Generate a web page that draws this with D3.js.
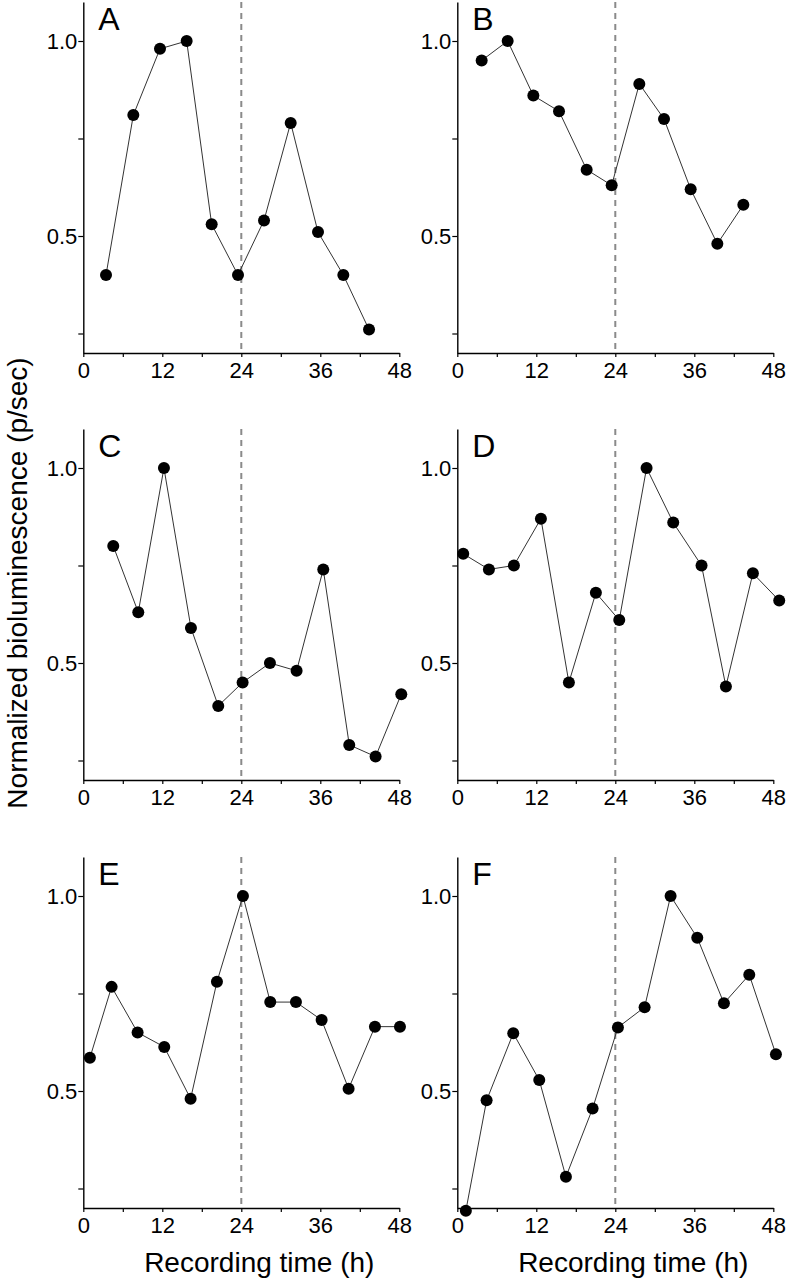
<!DOCTYPE html>
<html>
<head>
<meta charset="utf-8">
<script src="https://cdn.jsdelivr.net/npm/d3@7"></script>
<style>
  body { margin: 0; background: #fff; }
  svg { display: block; font-family: "Liberation Sans", Arial, sans-serif; }
</style>
</head>
<body>
<svg id="chart" width="788" height="1280"></svg>
<script>
// hours (h) and normalized bioluminescence
const timesA = [3.45, 7.6, 11.65, 15.7, 19.5, 23.5, 27.45, 31.5, 35.65, 39.5, 43.4];
const valuesA = [0.40, 0.81, 0.98, 1.00, 0.53, 0.40, 0.54, 0.79, 0.51, 0.40, 0.26];

const timesB = [3.7, 7.65, 11.55, 15.45, 19.65, 23.45, 27.65, 31.4, 35.45, 39.5, 43.45];
const valuesB = [0.95, 1.00, 0.86, 0.82, 0.67, 0.63, 0.89, 0.80, 0.62, 0.48, 0.58];

const timesC = [4.55, 8.35, 12.25, 16.35, 20.5, 24.2, 28.35, 32.4, 36.45, 40.4, 44.4, 48.3];
const valuesC = [0.80, 0.63, 1.00, 0.59, 0.39, 0.45, 0.50, 0.48, 0.74, 0.29, 0.26, 0.42];

const timesD = [0.9, 4.8, 8.6, 12.7, 16.95, 21.05, 24.6, 28.75, 32.8, 37.1, 40.8, 44.9, 48.9];
const valuesD = [0.78, 0.74, 0.75, 0.87, 0.45, 0.68, 0.61, 1.00, 0.86, 0.75, 0.44, 0.73, 0.66];

const timesE = [1.0, 4.3, 8.25, 12.3, 16.3, 20.3, 24.25, 28.4, 32.3, 36.2, 40.3, 44.3, 48.1];
const valuesE = [0.585, 0.767, 0.65, 0.613, 0.48, 0.78, 1.00, 0.728, 0.728, 0.682, 0.506, 0.665, 0.665];

const timesF = [1.3, 4.45, 8.5, 12.45, 16.5, 20.55, 24.4, 28.45, 32.4, 36.45, 40.5, 44.35, 48.4];
const valuesF = [0.193, 0.476, 0.648, 0.528, 0.28, 0.455, 0.663, 0.715, 1.00, 0.893, 0.725, 0.798, 0.594];

const panelLetters = ['A', 'B', 'C', 'D', 'E', 'F'];
const xTicks = [0, 6, 12, 18, 24, 30, 36, 42, 48];
const xTickLabels = [0, 12, 24, 36, 48];
const yTicks = [0.25, 0.5, 0.75, 1.0];
const yTickLabels = [0.5, 1.0];
const markerTime = 24;

const panels = [
    { letter: panelLetters[0], t: timesA, v: valuesA },
    { letter: panelLetters[1], t: timesB, v: valuesB },
    { letter: panelLetters[2], t: timesC, v: valuesC },
    { letter: panelLetters[3], t: timesD, v: valuesD },
    { letter: panelLetters[4], t: timesE, v: valuesE },
    { letter: panelLetters[5], t: timesF, v: valuesF }
];

const font = '"Liberation Sans", Arial, sans-serif';
const svg = d3.select('#chart');
const colLeft = [83.3, 457.3];
const rowTop = [2, 429, 857];
const width = 316;
const height = 351;

const x = d3.scaleLinear().domain([0, 48]).range([0, width]);
const y = d3.scaleLinear().domain([0.2, 1.1]).range([height, 0]);

const line = d3.line()
    .x(d => x(d.t))
    .y(d => y(d.v));

panels.forEach((p, i) => {
    const col = i % 2;
    const row = Math.floor(i / 2);
    const g = svg.append('g')
        .attr('transform', `translate(${colLeft[col]}, ${rowTop[row]})`);

    const pts = p.t.map((t, k) => ({ t, v: p.v[k] }));

    // x axis
    const xa = g.append('g')
        .attr('transform', `translate(0, ${height})`)
        .call(d3.axisBottom(x)
            .tickValues(xTicks)
            .tickSize(4)
            .tickSizeOuter(0)
            .tickPadding(5)
            .tickFormat(d => xTickLabels.includes(d) ? d : ''));

    // y axis
    const ya = g.append('g')
        .call(d3.axisLeft(y)
            .tickValues(yTicks)
            .tickSize(5)
            .tickSizeOuter(0)
            .tickPadding(1)
            .tickFormat(d => yTickLabels.includes(d) ? d3.format('.1f')(d) : ''));

    [xa, ya].forEach(a => {
        a.attr('font-family', font);
        a.select('.domain').attr('stroke', '#000').attr('stroke-width', 1.4);
        a.selectAll('.tick line').attr('stroke', '#000').attr('stroke-width', 1.2);
        a.selectAll('.tick text')
            .attr('fill', '#000')
            .style('font-family', font)
            .style('font-size', '22px');
    });

    // dashed marker at 24 h
    g.append('line')
        .attr('x1', x(markerTime)).attr('x2', x(markerTime))
        .attr('y1', y(1.1)).attr('y2', y(0.2))
        .attr('stroke', '#8a8a8a')
        .attr('stroke-width', 2)
        .attr('stroke-dasharray', '6,5');

    g.append('path')
        .datum(pts)
        .attr('d', line)
        .attr('fill', 'none')
        .attr('stroke', '#333')
        .attr('stroke-width', 1);

    g.selectAll('.dot')
        .data(pts)
        .enter()
        .append('circle')
        .attr('cx', d => x(d.t))
        .attr('cy', d => y(d.v))
        .attr('r', 6)
        .attr('fill', '#000');

    g.append('text')
        .attr('x', 15)
        .attr('y', 28)
        .style('font-size', '32px')
        .text(p.letter);

    if (row === 2) {
        g.append('text')
            .attr('x', 176)
            .attr('y', height + 64)
            .attr('text-anchor', 'middle')
            .style('font-size', '28px')
            .text('Recording time (h)');
    }
});

svg.append('text')
    .attr('transform', 'translate(27, 583) rotate(-90)')
    .attr('text-anchor', 'middle')
    .style('font-size', '28px')
    .text('Normalized bioluminescence (p/sec)');
</script>
</body>
</html>
